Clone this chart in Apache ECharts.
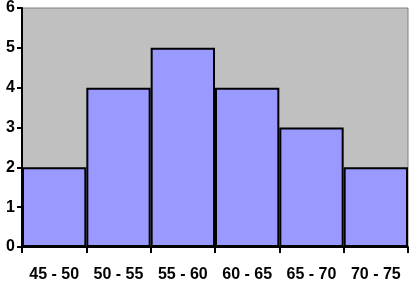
<!DOCTYPE html>
<html><head><meta charset="utf-8">
<script src="https://cdn.jsdelivr.net/npm/echarts@6/dist/echarts.min.js"></script>
<style>html,body{margin:0;padding:0;background:#fff}#c{width:409px;height:290px}</style>
</head><body><div id="c"></div>
<script>
var categories = ["45 - 50", "50 - 55", "55 - 60", "60 - 65", "65 - 70", "70 - 75"];
var counts = [2, 4, 5, 4, 3, 2];
var yTicks = [0, 1, 2, 3, 4, 5, 6];

var chart = echarts.init(document.getElementById('c'), null, {renderer: 'canvas'});
chart.setOption({
  animation: false,
  backgroundColor: '#ffffff',
  grid: {left: 22, right: 1, top: 6, bottom: 43, show: true, backgroundColor: '#C0C0C0', borderColor: '#808080', borderWidth: 1},
  xAxis: {
    type: 'category', data: categories,
    axisLine: {lineStyle: {color: '#000', width: 2}},
    axisTick: {show: true, alignWithLabel: false, length: 6, lineStyle: {color: '#000', width: 2}},
    axisLabel: {color: '#000', fontFamily: 'Liberation Sans, Arial', fontWeight: 'bold', fontSize: 16, margin: 20, interval: 0}
  },
  yAxis: {
    type: 'value', min: yTicks[0], max: yTicks[yTicks.length - 1], interval: 1,
    axisLine: {show: true, lineStyle: {color: '#000', width: 2}},
    axisTick: {show: true, length: 5, lineStyle: {color: '#000', width: 2}},
    splitLine: {show: false},
    axisLabel: {color: '#000', fontFamily: 'Liberation Sans, Arial', fontWeight: 'bold', fontSize: 16, margin: 7}
  },
  series: [{
    type: 'bar', data: counts, barCategoryGap: 0,
    itemStyle: {color: '#9999FF', borderColor: '#000', borderWidth: 2, borderJoin: 'miter'}
  }]
});
</script></body></html>
